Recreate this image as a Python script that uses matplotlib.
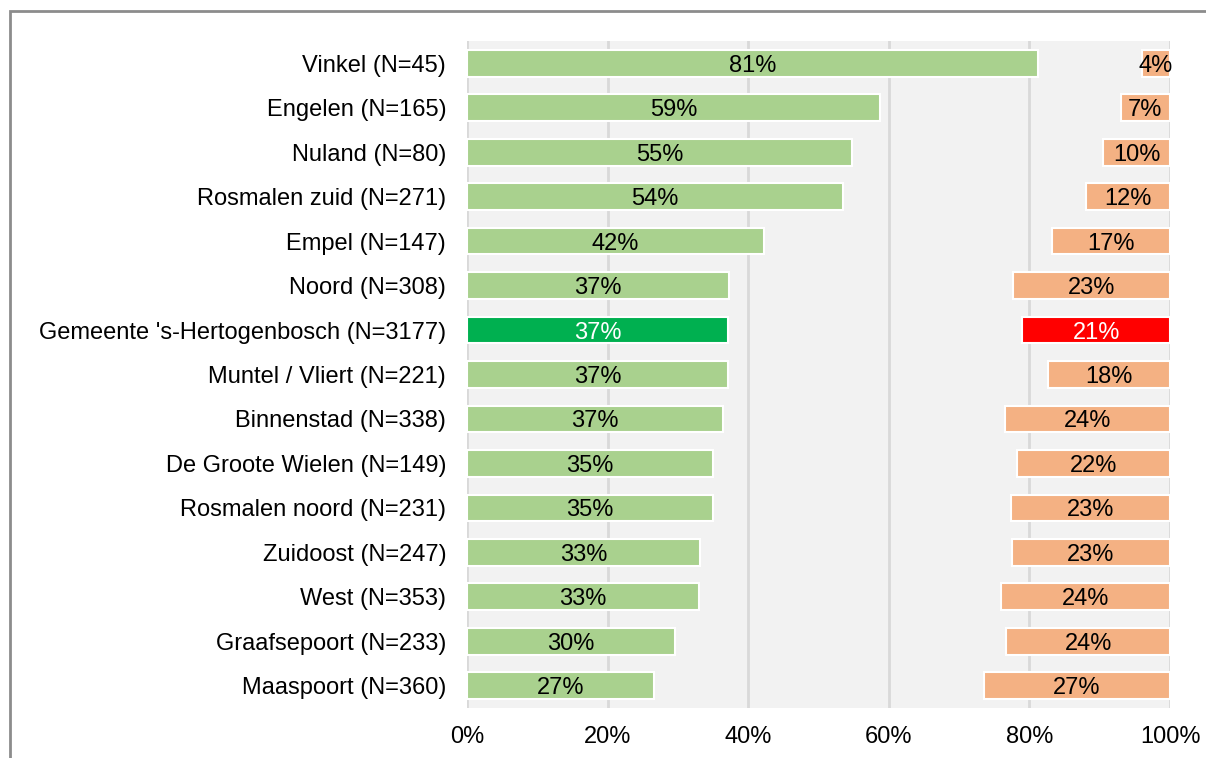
import matplotlib.pyplot as plt
from matplotlib.patches import Rectangle

plt.rcParams['font.family'] = ['Liberation Sans', 'DejaVu Sans']

wijken = [
    "Vinkel (N=45)", "Engelen (N=165)", "Nuland (N=80)", "Rosmalen zuid (N=271)",
    "Empel (N=147)", "Noord (N=308)", "Gemeente 's-Hertogenbosch (N=3177)",
    "Muntel / Vliert (N=221)", "Binnenstad (N=338)", "De Groote Wielen (N=149)",
    "Rosmalen noord (N=231)", "Zuidoost (N=247)", "West (N=353)",
    "Graafsepoort (N=233)", "Maaspoort (N=360)",
]
# estimated bar lengths (%)
positief = [81.2, 58.7, 54.8, 53.5, 42.2, 37.3, 37.1, 37.1, 36.4, 35.0, 35.0, 33.1, 33.0, 29.6, 26.6]
negatief = [4.0, 7.0, 9.5, 12.0, 16.8, 22.3, 21.0, 17.4, 23.5, 21.8, 22.6, 22.5, 24.0, 23.3, 26.5]
# printed labels
positief_lbl = [81, 59, 55, 54, 42, 37, 37, 37, 37, 35, 35, 33, 33, 30, 27]
negatief_lbl = [4, 7, 10, 12, 17, 23, 21, 18, 24, 22, 23, 23, 24, 24, 27]
ticks = [0, 20, 40, 60, 80, 100]

TOTAAL = "Gemeente 's-Hertogenbosch (N=3177)"
FS = 17

fig = plt.figure(figsize=(12.06, 7.58), dpi=100)
fig.patches.append(Rectangle((10 / 1206, -0.1), 1.2, 1 - 11 / 758 + 0.1,
                             transform=fig.transFigure, fill=False,
                             edgecolor="#8c8c8c", linewidth=2, zorder=0))
ax = fig.add_axes([467 / 1206, 1 - 708 / 758, 703 / 1206, 667 / 758])
ax.set_facecolor("#f2f2f2")

y = list(range(len(wijken)))
for i, naam in enumerate(wijken):
    tot = naam == TOTAAL
    gc = "#00b050" if tot else "#a9d18e"
    rc = "#ff0000" if tot else "#f4b183"
    tc = "white" if tot else "black"
    ax.barh(i, positief[i], height=0.6, color=gc, edgecolor="white", linewidth=1.5, zorder=3)
    ax.barh(i, negatief[i], left=100 - negatief[i], height=0.6, color=rc,
            edgecolor="white", linewidth=1.5, zorder=3)
    ax.text(positief[i] / 2, i, f"{positief_lbl[i]}%", ha="center", va="center_baseline",
            fontsize=FS, color=tc, zorder=4)
    ax.text(100 - negatief[i] / 2, i, f"{negatief_lbl[i]}%", ha="center", va="center_baseline",
            fontsize=FS, color=tc, zorder=4)

for t in ticks:
    ax.axvline(t, color="#d9d9d9", linewidth=2, zorder=1)

ax.set_xlim(0, 100)
ax.set_ylim(len(wijken) - 0.5, -0.5)
ax.set_yticks(y)
ax.set_yticklabels(wijken, fontsize=FS)
ax.set_xticks(ticks)
ax.set_xticklabels([f"{t}%" for t in ticks], fontsize=FS)
ax.tick_params(axis="y", length=0, pad=15)
ax.tick_params(axis="x", length=0, pad=13)
for s in ax.spines.values():
    s.set_visible(False)

plt.savefig("out.png", dpi=100)
